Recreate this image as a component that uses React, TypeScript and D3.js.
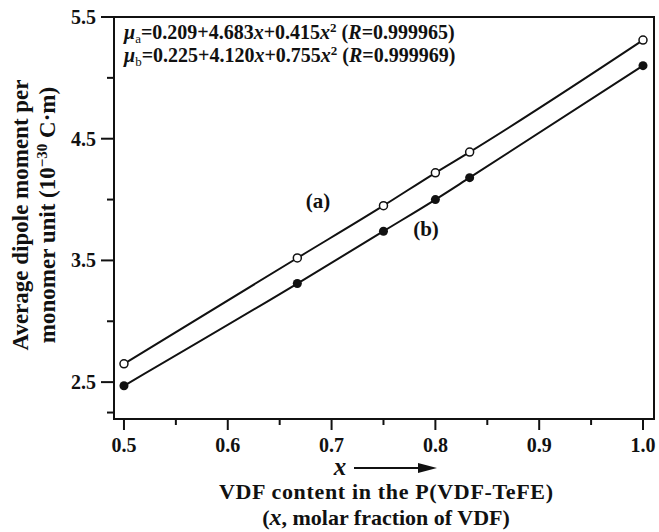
import React, { useEffect, useRef } from "react";
import * as d3 from "d3";

// fraction of VDF
const xValues = [0.5, 0.667, 0.75, 0.8, 0.833, 1.0];
// series (a) open circles, (b) filled circles
const seriesA = [2.65, 3.52, 3.95, 4.22, 4.39, 5.31];
const seriesB = [2.47, 3.31, 3.74, 4.0, 4.18, 5.1];

const xTicks = [0.5, 0.6, 0.7, 0.8, 0.9, 1.0];
const xMinorTicks = [0.55, 0.65, 0.75, 0.85, 0.95];
const yTicks = [2.5, 3.5, 4.5, 5.5];
const yMinorTicks = [2.25, 3.0, 4.0, 5.0];

const W = 659;
const H = 532;
const FONT = "'Liberation Serif', 'Times New Roman', serif";

const App = () => {
  const svgRef = useRef<SVGSVGElement>(null);

  useEffect(() => {
    const svg = d3.select(svgRef.current);
    svg.selectAll("*").remove();

    const left = 114, right = 654, top = 17, bottom = 419;

    const x = d3.scaleLinear().domain([0.4904, 1.0106]).range([left, right]);
    const y = d3.scaleLinear().domain([2.197, 5.5]).range([bottom, top]);

    // frame
    svg.append("rect")
      .attr("x", left).attr("y", top)
      .attr("width", right - left).attr("height", bottom - top)
      .attr("fill", "none").attr("stroke", "#111").attr("stroke-width", 2);

    // x ticks
    svg.selectAll(".xt").data(xTicks).enter().append("line")
      .attr("x1", d => x(d)).attr("x2", d => x(d))
      .attr("y1", bottom).attr("y2", bottom + 11)
      .attr("stroke", "#111").attr("stroke-width", 2);
    svg.selectAll(".xm").data(xMinorTicks).enter().append("line")
      .attr("x1", d => x(d)).attr("x2", d => x(d))
      .attr("y1", bottom).attr("y2", bottom + 6)
      .attr("stroke", "#111").attr("stroke-width", 2);
    svg.selectAll(".xl").data(xTicks).enter().append("text")
      .attr("x", d => x(d)).attr("y", bottom + 33)
      .attr("text-anchor", "middle")
      .style("font-family", FONT).style("font-size", "20px").style("font-weight", "bold")
      .attr("fill", "#111")
      .text(d => d.toFixed(1));

    // y ticks
    svg.selectAll(".yt").data(yTicks).enter().append("line")
      .attr("x1", left - 13).attr("x2", left)
      .attr("y1", d => y(d)).attr("y2", d => y(d))
      .attr("stroke", "#111").attr("stroke-width", 2);
    svg.selectAll(".ym").data(yMinorTicks).enter().append("line")
      .attr("x1", left - 7).attr("x2", left)
      .attr("y1", d => y(d)).attr("y2", d => y(d))
      .attr("stroke", "#111").attr("stroke-width", 2);
    svg.selectAll(".yl").data(yTicks).enter().append("text")
      .attr("x", left - 18).attr("y", d => y(d) + 7)
      .attr("text-anchor", "end")
      .style("font-family", FONT).style("font-size", "20px").style("font-weight", "bold")
      .attr("fill", "#111")
      .text(d => d.toFixed(1));

    const line = d3.line<number>()
      .x((_, i) => x(xValues[i]))
      .y(d => y(d))
      .curve(d3.curveMonotoneX);

    [seriesA, seriesB].forEach(s => {
      svg.append("path")
        .attr("d", line(s))
        .attr("fill", "none").attr("stroke", "#111").attr("stroke-width", 2);
    });

    // open circles (a)
    svg.selectAll(".pa").data(seriesA).enter().append("circle")
      .attr("cx", (_, i) => x(xValues[i])).attr("cy", d => y(d))
      .attr("r", 4).attr("fill", "#fff").attr("stroke", "#111").attr("stroke-width", 1.5);
    // filled circles (b)
    svg.selectAll(".pb").data(seriesB).enter().append("circle")
      .attr("cx", (_, i) => x(xValues[i])).attr("cy", d => y(d))
      .attr("r", 4.5).attr("fill", "#111");

    const bold = (sel: any, size: number) =>
      sel.style("font-family", FONT).style("font-size", size + "px")
        .style("font-weight", "bold").attr("fill", "#111");

    bold(svg.append("text").attr("x", 318).attr("y", 208).attr("text-anchor", "middle").text("(a)"), 21);
    bold(svg.append("text").attr("x", 426).attr("y", 236).attr("text-anchor", "middle").text("(b)"), 21);

    // equations
    const eqs = [
      { sub: "a", c: "0.209+4.683", c2: "+0.415", r: "0.999965" },
      { sub: "b", c: "0.225+4.120", c2: "+0.755", r: "0.999969" },
    ];
    eqs.forEach((e, i) => {
      const t = bold(svg.append("text").attr("x", 124).attr("y", 39 + i * 23), 20);
      t.append("tspan").style("font-style", "italic").text("μ");
      t.append("tspan").attr("dy", 4).style("font-size", "13px").style("font-weight", "normal").text(e.sub);
      t.append("tspan").attr("dy", -4).text("=" + e.c);
      t.append("tspan").style("font-style", "italic").text("x");
      t.append("tspan").text(e.c2);
      t.append("tspan").style("font-style", "italic").text("x");
      t.append("tspan").attr("dy", -7).style("font-size", "13px").text("2");
      t.append("tspan").attr("dy", 7).text(" (");
      t.append("tspan").style("font-style", "italic").text("R");
      t.append("tspan").text("=" + e.r + ")");
    });

    // y axis label
    const yl1 = bold(svg.append("text")
      .attr("transform", "translate(28,215) rotate(-90)")
      .attr("text-anchor", "middle"), 23);
    yl1.text("Average dipole moment per");
    const yl2 = bold(svg.append("text")
      .attr("transform", "translate(55,215) rotate(-90)")
      .attr("text-anchor", "middle"), 23);
    yl2.append("tspan").text("monomer unit (10");
    yl2.append("tspan").attr("dy", -8).style("font-size", "15px").text("−30");
    yl2.append("tspan").attr("dy", 8).text(" C·m)");

    // x axis label
    bold(svg.append("text").attr("x", 340).attr("y", 475).attr("text-anchor", "middle")
      .style("font-style", "italic").text("x"), 25);
    svg.append("line").attr("x1", 354).attr("x2", 422).attr("y1", 468).attr("y2", 468)
      .attr("stroke", "#111").attr("stroke-width", 2);
    svg.append("path").attr("d", "M418,463 L437,468 L418,473 Z").attr("fill", "#111");

    bold(svg.append("text").attr("x", 386).attr("y", 499).attr("text-anchor", "middle")
      .attr("textLength", 334).attr("lengthAdjust", "spacing")
      .text("VDF content in the P(VDF-TeFE)"), 22);
    const xl3 = bold(svg.append("text").attr("x", 386).attr("y", 525).attr("text-anchor", "middle"), 22);
    xl3.append("tspan").text("(");
    xl3.append("tspan").style("font-style", "italic").style("font-size", "24px").text("x");
    xl3.append("tspan").text(", molar fraction of VDF)");
  }, []);

  return (
    <div style={{ position: "absolute", left: 0, top: 0 }}>
      <svg ref={svgRef} width={W} height={H} style={{ background: "#fff", display: "block" }} />
    </div>
  );
};

export default App;
